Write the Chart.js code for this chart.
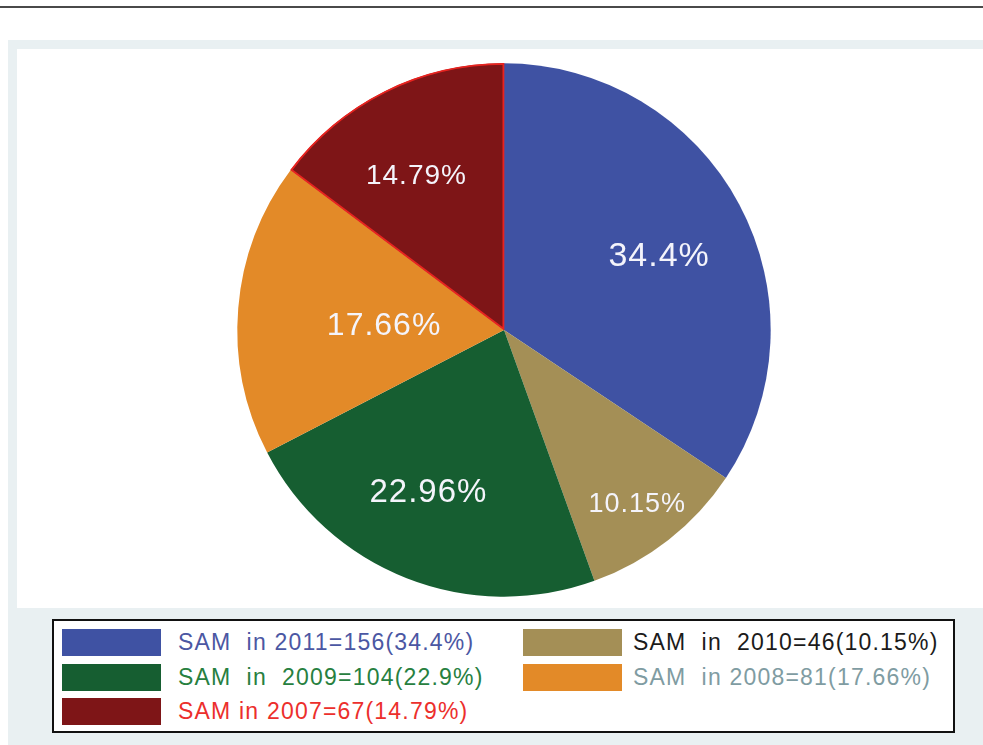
<!DOCTYPE html>
<html>
<head>
<meta charset="utf-8">
<script src="https://cdn.jsdelivr.net/npm/chart.js@4.4.0/dist/chart.umd.min.js"></script>
<style>
  html, body { margin: 0; padding: 0; background: #fff; }
  body { width: 983px; height: 745px; position: relative; overflow: hidden; font-family: "Liberation Sans", Arial, sans-serif; }
  #topline { position: absolute; left: 0; top: 6px; width: 983px; height: 2px; background: #4a4a4a; }
  #panel { position: absolute; left: 8px; top: 40px; width: 975px; height: 705px; background: #e9f0f2; }
  #plot { position: absolute; left: 17px; top: 49px; width: 966px; height: 559px; background: #fff; }
  #pieBox { position: absolute; left: 204px; top: 30px; width: 600px; height: 600px; }
  #legend { position: absolute; left: 52px; top: 619px; width: 899px; height: 110px; border: 2px solid #111; background: #fff; z-index: 5; }
  .item { position: absolute; height: 28px; white-space: pre; font-size: 23px; letter-spacing: 1.2px; line-height: 28px; }
  .swatch { position: absolute; top: 0; width: 99px; height: 27px; }
  .txt { position: absolute; top: -1px; }
</style>
</head>
<body>
<div id="topline"></div>
<div id="panel"></div>
<div id="plot"></div>
<div id="pieBox"><canvas id="pieChart" width="600" height="600"></canvas></div>
<div id="legend"></div>

<script>
// Datos del gráfico (orden en sentido horario desde arriba)
const years = ["2011", "2010", "2009", "2008", "2007"];
const counts = [156, 46, 104, 81, 67];
const pieLabels = ["34.4%", "10.15%", "22.96%", "17.66%", "14.79%"];
const legendTexts = [
    "SAM  in 2011=156(34.4%)",
    "SAM  in  2010=46(10.15%)",
    "SAM  in  2009=104(22.9%)",
    "SAM  in 2008=81(17.66%)",
    "SAM in 2007=67(14.79%)"
];

// Estilos
const sliceColors = ["#3f52a3", "#a48f56", "#165e31", "#e38a28", "#7e1517"];
const legendTextColors = ["#4b57a3", "#1b1b1b", "#27803f", "#7f9ca2", "#ec2f2c"];
const labelFont = [34, 27, 33, 32, 28];
const labelRadius = [0.65, 0.81, 0.66, 0.45, 0.675];
const labelShift = [1.5, 0, 4, -1, -2.5]; // grados

// Plugin para dibujar los porcentajes dentro de cada sector
const sliceLabels = {
    id: 'sliceLabels',
    afterDatasetsDraw(chart) {
        const ctx = chart.ctx;
        const meta = chart.getDatasetMeta(0);
        meta.data.forEach((arc, i) => {
            const p = arc.getProps(['x', 'y', 'startAngle', 'endAngle', 'outerRadius'], true);
            const mid = (p.startAngle + p.endAngle) / 2 + labelShift[i] * Math.PI / 180;
            const r = p.outerRadius * labelRadius[i];
            ctx.save();
            ctx.font = labelFont[i] + 'px "Liberation Sans", Arial, sans-serif';
            ctx.fillStyle = '#f4f4fb';
            ctx.textAlign = 'center';
            ctx.textBaseline = 'middle';
            if ('letterSpacing' in ctx) ctx.letterSpacing = '1px';
            ctx.fillText(pieLabels[i], p.x + Math.cos(mid) * r, p.y + Math.sin(mid) * r + 4);
            ctx.restore();
        });
    }
};

const ctx = document.getElementById('pieChart').getContext('2d');
const pieChart = new Chart(ctx, {
    type: 'pie',
    data: {
        labels: years,
        datasets: [{
            data: counts,
            backgroundColor: sliceColors,
            borderColor: ["#3f52a3", "#a48f56", "#165e31", "#e38a28", "#e8231f"],
            borderWidth: [0, 0, 0, 0, 1.5],
            borderAlign: 'inner',
            hoverOffset: 0
        }]
    },
    options: {
        responsive: false,
        animation: false,
        layout: { padding: 33 },
        plugins: {
            legend: { display: false },
            tooltip: { enabled: false }
        }
    },
    plugins: [sliceLabels]
});

// Leyenda en dos columnas, generada desde los arreglos
const legend = document.getElementById('legend');
const rowTops = [8, 43, 77];
years.forEach((y, i) => {
    const col = i % 2;
    const row = Math.floor(i / 2);
    const item = document.createElement('div');
    item.className = 'item';
    item.style.top = rowTops[row] + 'px';
    item.style.left = (col === 0 ? 8 : 469) + 'px';

    const sw = document.createElement('div');
    sw.className = 'swatch';
    sw.style.background = sliceColors[i];
    sw.style.left = '0px';
    item.appendChild(sw);

    const t = document.createElement('div');
    t.className = 'txt';
    t.style.left = (col === 0 ? 116 : 110) + 'px';
    t.style.color = legendTextColors[i];
    t.textContent = legendTexts[i];
    item.appendChild(t);

    legend.appendChild(item);
});
</script>
</body>
</html>
